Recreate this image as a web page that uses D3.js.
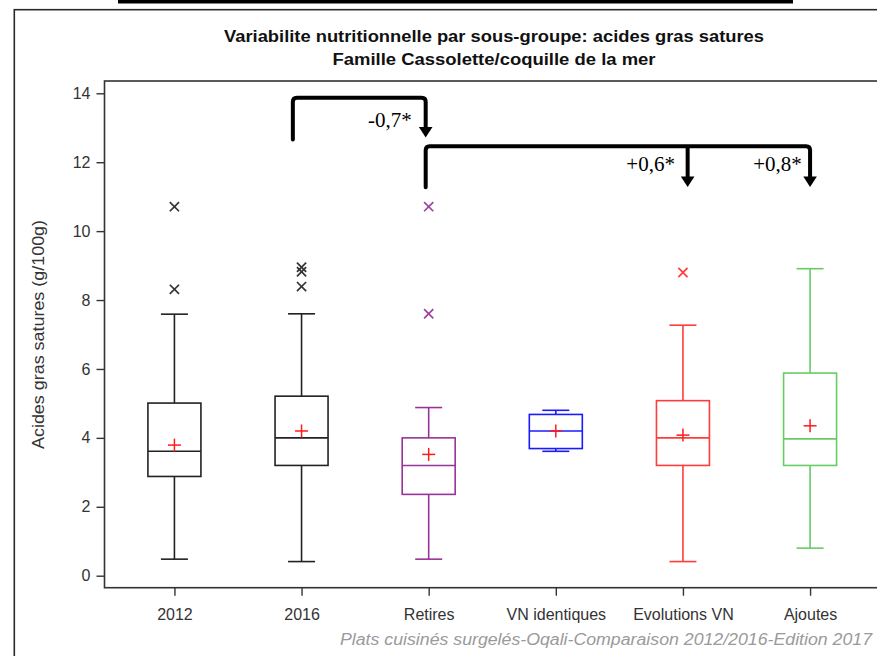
<!DOCTYPE html>
<html><head><meta charset="utf-8">
<script src="https://cdn.jsdelivr.net/npm/d3@7"></script>
<style>body{margin:0;background:#fff}svg{display:block}</style>
</head><body>
<svg id="c" width="877" height="656"></svg>
<script>
// ---- data ----
const categories = ["2012","2016","Retires","VN identiques","Evolutions VN","Ajoutes"];
const boxMin    = [0.48, 0.41, 0.48, 3.61, 0.41, 0.80];
const boxQ1     = [2.88, 3.20, 2.36, 3.69, 3.20, 3.20];
const boxMedian = [3.61, 4.00, 3.20, 4.20, 4.00, 3.97];
const boxQ3     = [5.01, 5.21, 4.00, 4.68, 5.08, 5.88];
const boxMax    = [7.59, 7.60, 4.88, 4.80, 7.27, 8.91];
const boxMean   = [3.79, 4.20, 3.52, 4.20, 4.08, 4.35];
const outliers  = [[10.71, 8.31], [8.95, 8.82, 8.39], [10.71, 7.60], [], [8.80], []];
const boxColors = ["#222222","#222222","#993399","#1a1aff","#ff3b3b","#66cc66"];
const outColors = ["#333333","#333333","#a040a0","#1a1aff","#ff3b3b","#66cc66"];
const yTicks = [0,2,4,6,8,10,12,14];
const titleLines = ["Variabilite nutritionnelle par sous-groupe: acides gras satures","Famille Cassolette/coquille de la mer"];
const yLabel = "Acides gras satures (g/100g)";
const footer = "Plats cuisinés surgelés-Oqali-Comparaison 2012/2016-Edition 2017";
// significance annotations
const annotLabels = ["-0,7*", "+0,6*", "+0,8*"];
const annotFrom   = ["2016", "Retires", "Retires"];
const annotTo     = ["Retires", "Evolutions VN", "Ajoutes"];
const annotTop    = [13.87, 12.46, 12.46];
const annotStart  = [12.66, 11.27, 11.27];
const annotTip    = [12.72, 11.28, 11.28];

// ---- layout ----
const svg = d3.select("#c");
const pLeft = 104.5, pRight = 880, pTop = 81, pBottom = 587.7;
const x = d3.scalePoint().domain(categories).range([pLeft, pRight]).padding(0.55);
const y = d3.scaleLinear().domain([0, 14]).range([575.7, 93.3]);
const font = "'Liberation Sans', Arial, sans-serif";

// cropped heading bar + outer frame
svg.append("rect").attr("x",118).attr("y",0).attr("width",675).attr("height",3.5).attr("fill","#000");
svg.append("rect").attr("x",14.3).attr("y",9.7).attr("width",900).attr("height",700)
  .attr("fill","none").attr("stroke","#2a2a2a").attr("stroke-width",1.6);

// titles
const titleWidths = [540, 323];
svg.selectAll("text.title").data(titleLines).join("text").attr("class","title")
  .attr("x",494).attr("y",(d,i)=>41.7+i*23.3).attr("text-anchor","middle")
  .attr("font-family",font).attr("font-weight","bold").attr("font-size",16).attr("fill","#111")
  .attr("textLength",(d,i)=>titleWidths[i]).attr("lengthAdjust","spacingAndGlyphs")
  .text(d=>d);

// plot frame
svg.append("rect").attr("x",pLeft).attr("y",pTop).attr("width",pRight-pLeft).attr("height",pBottom-pTop)
  .attr("fill","none").attr("stroke","#333").attr("stroke-width",1.6);

// y axis
const yAxis = d3.axisLeft(y).tickValues(yTicks).tickSize(8).tickPadding(6).tickFormat(d3.format("d"));
const ga = svg.append("g").attr("transform",`translate(${pLeft},0)`).call(yAxis);
ga.select(".domain").remove();
ga.selectAll("line").attr("stroke","#333").attr("stroke-width",1.4);
ga.selectAll("text").attr("font-family",font).attr("font-size",16).attr("fill","#333");

// x axis
const xAxis = d3.axisBottom(x).tickSize(8).tickPadding(13);
const gx = svg.append("g").attr("transform",`translate(0,${pBottom})`).call(xAxis);
gx.select(".domain").remove();
gx.selectAll("line").attr("stroke","#333").attr("stroke-width",1.4);
gx.selectAll("text").attr("font-family",font).attr("font-size",16).attr("fill","#333");

// y label
svg.append("text").attr("transform","translate(44,334.5) rotate(-90)").attr("text-anchor","middle")
  .attr("font-family",font).attr("font-size",16).attr("fill","#333")
  .attr("textLength",229).attr("lengthAdjust","spacingAndGlyphs").text(yLabel);

// boxes
const boxW = 53, capW = 27;
categories.forEach((c,i)=>{
  const cx = x(c), col = boxColors[i];
  const g = svg.append("g").attr("stroke",col).attr("stroke-width",1.6).attr("fill","none");
  g.append("line").attr("x1",cx).attr("x2",cx).attr("y1",y(boxMax[i])).attr("y2",y(boxQ3[i]));
  g.append("line").attr("x1",cx).attr("x2",cx).attr("y1",y(boxQ1[i])).attr("y2",y(boxMin[i]));
  g.append("line").attr("x1",cx-capW/2).attr("x2",cx+capW/2).attr("y1",y(boxMax[i])).attr("y2",y(boxMax[i]));
  g.append("line").attr("x1",cx-capW/2).attr("x2",cx+capW/2).attr("y1",y(boxMin[i])).attr("y2",y(boxMin[i]));
  g.append("rect").attr("x",cx-boxW/2).attr("width",boxW).attr("y",y(boxQ3[i])).attr("height",y(boxQ1[i])-y(boxQ3[i]));
  g.append("line").attr("x1",cx-boxW/2).attr("x2",cx+boxW/2).attr("y1",y(boxMedian[i])).attr("y2",y(boxMedian[i]));
  // mean +
  const my = y(boxMean[i]);
  const m = svg.append("g").attr("stroke","#ff1a1a").attr("stroke-width",1.5);
  m.append("line").attr("x1",cx-6.5).attr("x2",cx+6.5).attr("y1",my).attr("y2",my);
  m.append("line").attr("x1",cx).attr("x2",cx).attr("y1",my-6.5).attr("y2",my+6.5);
  // outliers x
  outliers[i].forEach(v=>{
    const oy = y(v), s = 4.6;
    const o = svg.append("g").attr("stroke",outColors[i]).attr("stroke-width",1.7);
    o.append("line").attr("x1",cx-s).attr("x2",cx+s).attr("y1",oy-s).attr("y2",oy+s);
    o.append("line").attr("x1",cx-s).attr("x2",cx+s).attr("y1",oy+s).attr("y2",oy-s);
  });
});

// significance brackets
const ann = svg.append("g");
const adjX = {"2016":-8.7, "Retires":-3, "Evolutions VN":4.7, "Ajoutes":0};
function arrowHead(ax, tipY){
  ann.append("path").attr("d",`M${ax-6.8},${tipY-10.5} L${ax+6.8},${tipY-10.5} L${ax},${tipY} Z`).attr("fill","#000");
}
const r = 4;
// bracket 1
{
  const x0 = x(annotFrom[0])+adjX[annotFrom[0]], x1 = x(annotTo[0])+adjX[annotTo[0]];
  const yt = y(annotTop[0]), ys = y(annotStart[0]), tip = y(annotTip[0]);
  ann.append("path").attr("d",`M${x0},${ys} V${yt+r} Q${x0},${yt} ${x0+r},${yt} H${x1-r} Q${x1},${yt} ${x1},${yt+r} V${tip-9}`)
    .attr("fill","none").attr("stroke","#000").attr("stroke-width",4).attr("stroke-linecap","round");
  arrowHead(x1, tip);
}
// bracket 2 (shared top)
{
  const x0 = x(annotFrom[1])+adjX[annotFrom[1]];
  const xa = x(annotTo[1])+adjX[annotTo[1]], xb = x(annotTo[2])+adjX[annotTo[2]];
  const yt = y(annotTop[1]), ys = y(annotStart[1]), tip = y(annotTip[1]);
  ann.append("path").attr("d",`M${x0},${ys} V${yt+r} Q${x0},${yt} ${x0+r},${yt} H${xb-r} Q${xb},${yt} ${xb},${yt+r} V${tip-9}`)
    .attr("fill","none").attr("stroke","#000").attr("stroke-width",4).attr("stroke-linecap","round");
  ann.append("path").attr("d",`M${xa},${yt} V${tip-9}`).attr("fill","none").attr("stroke","#000").attr("stroke-width",4);
  arrowHead(xa, tip); arrowHead(xb, tip);
}
// labels
const labOff = [14, 12.7, 8.3];
annotLabels.forEach((t,i)=>{
  const ax = x(annotTo[i])+adjX[annotTo[i]];
  const ly = i===0 ? y(annotTop[0]) + 29 : y(annotTop[1]) + 24.4;
  ann.append("text").attr("x",ax-labOff[i]).attr("y",ly).attr("text-anchor","end")
    .attr("font-family","'Liberation Serif','Times New Roman',serif").attr("font-size",21).attr("fill","#000").text(t);
});

// footer
svg.append("text").attr("x",872).attr("y",645).attr("text-anchor","end")
  .attr("font-family",font).attr("font-style","italic").attr("font-size",16).attr("fill","#9a9a9a")
  .attr("textLength",532).attr("lengthAdjust","spacingAndGlyphs").text(footer);
</script>
</body></html>
